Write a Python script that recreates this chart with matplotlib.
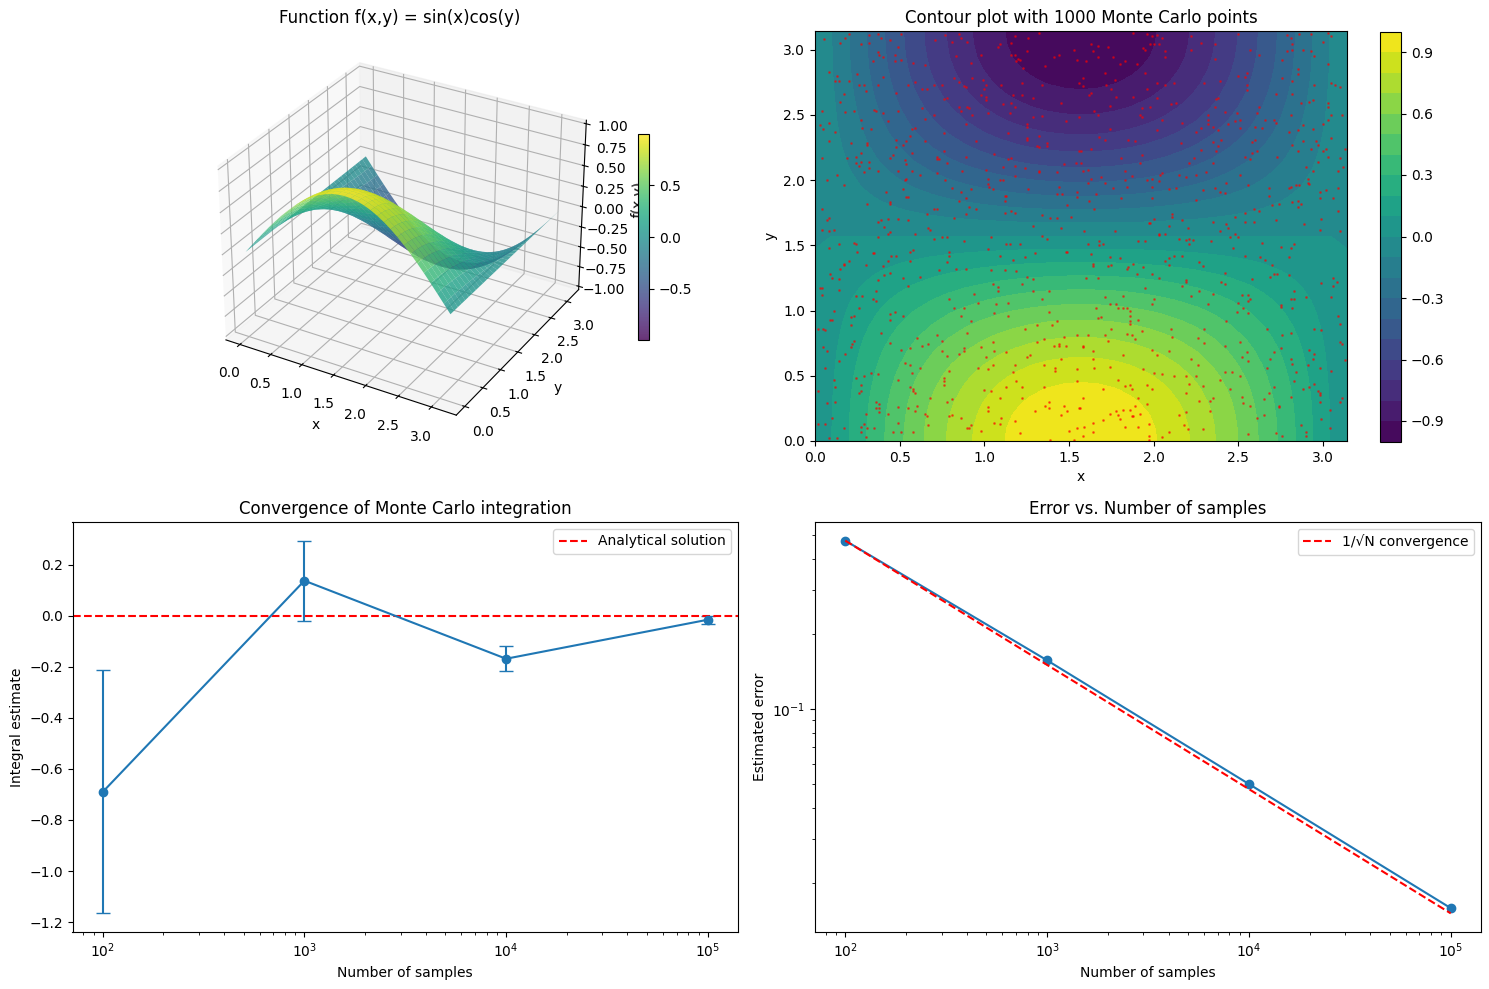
import matplotlib
matplotlib.use("Agg")
import numpy as np
import matplotlib.pyplot as plt

W, H = 1489, 989

# grid values
grid_x = [0, .098, .196, .295, .393, .491, .589, .687, .785, .884, .982, 1.080, 1.178, 1.276, 1.374, 1.473, 1.571,
          1.669, 1.767, 1.865, 1.963, 2.062, 2.160, 2.258, 2.356, 2.454, 2.553, 2.651, 2.749, 2.847, 2.945, 3.043, 3.142]
grid_y = grid_x
quarter_rows = [
    [0, .098, .195, .290, .383, .471, .556, .634, .707, .773, .831, .882, .924, .957, .981, .995, 1],
    [0, .098, .194, .289, .381, .469, .553, .631, .703, .769, .827, .878, .919, .952, .976, .990, .995],
    [0, .096, .191, .284, .376, .462, .545, .622, .694, .758, .815, .865, .906, .939, .962, .976, .981],
    [0, .094, .187, .278, .367, .451, .532, .607, .677, .740, .795, .844, .884, .916, .939, .952, .957],
    [0, .091, .180, .268, .354, .435, .514, .586, .653, .714, .768, .815, .854, .884, .906, .919, .924],
    [0, .086, .172, .256, .338, .415, .490, .559, .624, .682, .733, .778, .815, .844, .865, .878, .882],
    [0, .081, .162, .241, .318, .391, .462, .527, .588, .642, .691, .733, .768, .795, .815, .827, .831],
    [0, .076, .151, .224, .296, .364, .430, .490, .547, .598, .642, .682, .714, .740, .758, .769, .773],
    [0, .069, .138, .205, .271, .333, .393, .448, .500, .547, .588, .624, .653, .677, .694, .703, .707],
    [0, .062, .124, .184, .243, .299, .353, .402, .448, .490, .527, .559, .586, .607, .622, .631, .634],
    [0, .054, .108, .161, .213, .262, .309, .353, .393, .430, .462, .490, .514, .532, .545, .553, .556],
    [0, .046, .092, .137, .180, .222, .262, .299, .333, .364, .391, .415, .435, .451, .462, .469, .471],
    [0, .038, .075, .111, .147, .180, .213, .243, .271, .296, .318, .338, .354, .367, .376, .381, .383],
    [0, .028, .057, .084, .111, .137, .161, .184, .205, .224, .241, .256, .268, .278, .284, .289, .290],
    [0, .019, .038, .057, .075, .092, .108, .124, .138, .151, .162, .172, .180, .187, .191, .194, .195],
    [0, .010, .019, .028, .038, .046, .054, .062, .069, .076, .081, .086, .091, .094, .096, .098, .098],
    [0, 0, 0, 0, 0, 0, 0, 0, 0, 0, 0, 0, 0, 0, 0, 0, 0],
]

# red points, one list per quarter
points_top_left = [
    (.055,3.08),(.15,3.05),(.18,3.09),(.20,3.12),(.32,3.11),(.37,3.12),(.39,3.09),(.27,3.04),(.32,3.05),(.44,3.07),
    (.49,3.02),(.51,3.12),(.71,3.07),(.77,3.11),(.81,3.06),(.85,3.12),(.86,3.09),(.90,3.06),(1.08,3.02),(1.09,3.04),
    (1.16,3.05),(1.18,3.10),(1.26,3.09),(1.32,3.13),(1.25,2.99),(1.53,3.00),(1.44,2.96),(1.41,2.94),(1.55,2.92),(1.36,2.87),
    (1.23,2.86),(1.16,2.96),(1.18,2.96),(1.20,2.93),(1.21,2.92),(1.19,2.91),(.98,2.96),(.83,2.95),(.92,2.90),(.37,2.98),
    (.38,2.96),(.40,2.94),(.47,2.96),(.47,2.91),(.51,2.92),(.34,2.91),(.58,2.90),(.65,2.88),(.085,2.83),(.13,2.80),
    (.25,2.81),(.40,2.79),(.12,2.76),(.14,2.76),(.20,2.76),(.26,2.73),(.29,2.73),(.37,2.73),(.30,2.68),(.17,2.66),
    (.15,2.60),(.23,2.53),(.18,2.52),(.04,2.53),(.085,2.44),(.03,2.42),(.05,2.39),(.12,2.37),(.085,2.30),(.04,2.17),
    (.07,2.0),(.13,2.04),(.17,1.96),(.04,1.78),(.085,1.71),(.07,1.69),(.04,1.62),(.08,1.61),(.11,1.62),(.55,2.73),
    (.59,2.75),(.63,2.70),(.66,2.70),(.70,2.73),(.75,2.73),(.82,2.78),(.85,2.75),(.93,2.78),(.99,2.77),(1.01,2.73),
    (1.0,2.70),(.88,2.72),(.89,2.71),(1.10,2.73),(1.22,2.74),(1.34,2.73),(1.56,2.74),(.48,2.67),(.76,2.62),(.78,2.63),
    (.98,2.65),(1.01,2.64),(1.01,2.61),(1.17,2.65),(1.22,2.65),(1.29,2.63),(1.45,2.59),(1.11,2.58),(1.16,2.59),(1.18,2.56),
    (.63,2.55),(.85,2.56),(.86,2.53),(.90,2.56),(.91,2.55),(.35,2.54),(.36,2.53),(.40,2.51),(.49,2.53),(.70,2.50),
    (.93,2.50),(1.02,2.51),(1.15,2.51),(1.29,2.48),(1.34,2.49),(1.56,2.48),(.27,2.46),(.43,2.45),(.65,2.47),(.89,2.43),
    (1.48,2.45),(1.25,2.43),(1.25,2.41),(.28,2.40),(.33,2.39),(.57,2.39),(.59,2.40),(.56,2.34),(.76,2.36),(1.14,2.36),
    (1.32,2.34),(1.25,2.32),(1.25,2.31),(.48,2.31),(.54,2.30),(.65,2.30),(.95,2.30),(.21,2.28),(.31,2.27),(.31,2.28),
    (.52,2.27),(.48,2.25),(1.31,2.26),(1.32,2.25),(1.37,2.28),(1.37,2.26),(.27,2.21),(.57,2.21),(.76,2.22),(1.06,2.20),
    (1.56,2.22),(.19,2.17),(.24,2.18),(.44,2.17),(.46,2.19),(.72,2.18),(.72,2.16),(.73,2.16),(.89,2.18),(1.14,2.16),
    (1.16,2.17),(.27,2.14),(.32,2.14),(.53,2.15),(.78,2.13),(1.54,2.13),(1.47,2.12),(.24,2.13),(.26,2.11),(.54,2.12),
    (1.11,2.10),(1.18,2.11),(.32,2.09),(1.01,2.08),(1.24,2.09),(.29,2.06),(.37,2.07),(.49,2.07),(.57,2.07),(.87,2.07),
    (1.32,2.07),(1.32,2.06),(1.43,2.06),(.72,2.05),(.62,2.04),(1.18,2.03),(.77,2.0),(1.02,2.01),(.54,2.01),(.53,2.0),
    (1.09,2.0),(1.11,2.0),(1.02,1.97),(1.03,1.95),(1.05,1.93),(.81,1.94),(.92,1.93),(1.26,1.93),(1.44,1.95),(.42,1.91),
    (.52,1.93),(.86,1.91),(1.55,1.91),(1.43,1.89),(1.46,1.89),(1.55,1.87),(1.12,1.88),(1.13,1.88),(.54,1.87),(.55,1.87),
    (.85,1.84),(.89,1.86),(1.12,1.84),(.31,1.82),(.44,1.82),(.44,1.83),(1.49,1.81),(.70,1.78),(.72,1.78),(.91,1.79),
    (.95,1.78),(.66,1.74),(.89,1.74),(1.12,1.75),(1.16,1.76),(1.18,1.75),(1.34,1.73),(1.39,1.71),(1.43,1.71),(1.51,1.72),
    (.82,1.71),(.39,1.69),(.37,1.68),(.43,1.70),(.49,1.70),(.55,1.69),(.41,1.64),(.67,1.63),(.68,1.62),(1.29,1.65),
    (1.45,1.63),(.44,1.60),(.43,1.59),(.59,1.59),
]
points_top_right = [
    (1.88,3.13),(1.96,3.12),(1.99,3.10),(2.02,3.11),(2.05,3.09),(2.22,3.10),(2.28,3.05),(2.36,3.04),(2.50,3.12),(2.79,3.11),
    (2.81,3.09),(2.86,3.12),(2.93,3.12),(3.03,3.13),(3.05,3.10),(3.00,3.06),(2.82,3.04),(1.63,3.04),(1.67,3.03),(1.73,3.02),
    (1.94,3.01),(1.95,3.00),(1.98,3.04),(2.00,3.04),(2.03,3.04),(1.64,2.99),(2.07,2.99),(2.22,3.0),(2.57,3.0),(2.62,2.96),
    (2.79,2.99),(2.82,3.0),(2.88,3.0),(2.93,2.99),(2.95,2.95),(1.67,2.94),(1.76,2.94),(2.07,2.94),(2.36,2.93),(2.76,2.92),
    (1.60,2.91),(1.83,2.91),(1.80,2.89),(1.90,2.89),(3.03,2.89),(2.85,2.85),(1.71,2.82),(1.95,2.82),(2.85,2.81),(2.50,2.80),
    (2.55,2.82),(2.54,2.79),(2.76,2.78),(1.58,2.78),(1.77,2.77),(2.39,2.76),(2.82,2.76),(2.02,2.74),(2.07,2.73),(2.12,2.74),
    (2.30,2.74),(3.05,2.74),(3.07,2.73),(3.10,2.71),(2.95,2.73),(2.55,2.73),(2.55,2.69),(1.58,2.72),(1.72,2.73),(1.75,2.70),
    (1.96,2.70),(1.63,2.67),(2.72,2.66),(2.82,2.66),(1.62,2.65),(1.78,2.64),(1.88,2.64),(2.02,2.63),(2.38,2.63),(2.37,2.62),
    (2.92,2.60),(2.94,2.61),(2.87,2.59),(3.03,2.59),(3.03,2.56),(1.74,2.57),(1.98,2.56),(1.93,2.55),(2.10,2.58),(2.13,2.59),
    (2.36,2.56),(2.62,2.56),(1.65,2.53),(1.67,2.50),(1.92,2.50),(1.93,2.48),(2.32,2.50),(2.42,2.52),(2.49,2.51),(2.61,2.51),
    (2.81,2.50),(3.05,2.50),(3.11,2.50),(2.05,2.46),(2.32,2.46),(2.48,2.45),(2.51,2.46),(2.66,2.46),(2.71,2.46),(2.72,2.44),
    (3.03,2.46),(3.0,2.43),(2.17,2.44),(2.32,2.43),(2.44,2.43),(2.35,2.41),(2.51,2.40),(2.60,2.41),(2.64,2.40),(2.88,2.42),
    (2.28,2.40),(1.74,2.39),(2.02,2.38),(2.25,2.37),(2.38,2.38),(2.94,2.39),(2.85,2.38),(2.80,2.37),(1.68,2.33),(1.71,2.31),
    (1.85,2.31),(1.89,2.30),(2.40,2.31),(2.60,2.31),(3.05,2.32),(2.16,2.28),(2.35,2.29),(2.58,2.29),(2.82,2.27),(2.88,2.30),
    (2.96,2.30),(2.97,2.27),(2.38,2.26),(1.63,2.24),(2.28,2.23),(2.93,2.24),(3.02,2.24),(3.13,2.24),(1.57,2.22),(2.37,2.22),
    (2.58,2.21),(2.61,2.22),(2.85,2.22),(3.0,2.22),(1.93,2.19),(1.81,2.17),(2.24,2.17),(2.54,2.18),(2.73,2.18),(3.03,2.18),
    (3.10,2.17),(2.57,2.16),(1.92,2.13),(2.21,2.13),(2.35,2.13),(2.97,2.14),(1.57,2.13),(2.90,2.10),(3.12,2.10),(1.58,2.07),
    (1.61,2.08),(1.83,2.07),(2.31,2.06),(2.94,2.07),(3.09,2.07),(2.05,2.05),(2.04,2.04),(1.87,2.03),(2.15,2.04),(2.25,2.04),
    (2.51,2.04),(1.69,2.02),(1.63,2.01),(2.19,2.02),(1.96,2.0),(1.99,2.01),(2.91,2.01),(1.83,2.0),(2.03,1.99),(1.61,1.98),
    (1.71,1.98),(2.43,1.98),(2.91,1.98),(2.92,1.97),(2.56,1.96),(2.84,1.96),(2.86,1.96),(2.81,1.95),(2.80,1.94),(1.76,1.94),
    (1.84,1.95),(1.99,1.95),(2.09,1.93),(2.13,1.94),(2.36,1.94),(2.68,1.94),(3.09,1.94),(2.29,1.92),(2.39,1.91),(2.42,1.90),
    (3.02,1.92),(2.98,1.91),(1.66,1.89),(2.68,1.88),(1.81,1.86),(1.99,1.86),(2.25,1.85),(2.98,1.86),(3.06,1.86),(1.62,1.84),
    (2.85,1.84),(2.82,1.83),(2.87,1.82),(2.74,1.82),(2.70,1.81),(1.65,1.78),(2.59,1.78),(2.85,1.79),(2.54,1.75),(2.62,1.76),
    (3.09,1.76),(2.11,1.74),(2.11,1.72),(2.48,1.72),(2.0,1.70),(2.17,1.69),(2.72,1.69),(2.99,1.70),(2.35,1.68),(2.54,1.68),
    (2.59,1.68),(1.97,1.67),(1.98,1.67),(2.09,1.65),(2.43,1.66),(2.89,1.66),(2.20,1.63),(2.44,1.63),(2.39,1.61),(2.98,1.62),
    (3.10,1.61),(1.59,1.61),(1.77,1.61),(2.48,1.59),(2.03,1.59),(2.07,1.59),
]
points_bottom_left = [
    (.08,1.48),(.14,1.51),(.23,1.52),(.24,1.51),(.37,1.56),(.70,1.55),(.75,1.56),(.78,1.56),(.88,1.53),(1.04,1.56),
    (1.13,1.51),(1.15,1.51),(1.21,1.51),(1.34,1.57),(1.37,1.55),(.25,1.45),(.34,1.44),(.35,1.44),(.45,1.42),(.48,1.42),
    (.56,1.45),(.58,1.46),(.79,1.45),(.79,1.42),(1.02,1.47),(1.09,1.42),(1.17,1.39),(1.24,1.41),(1.30,1.44),(1.48,1.45),
    (1.49,1.45),(.20,1.38),(.43,1.38),(.56,1.38),(.78,1.37),(.17,1.35),(.17,1.36),(.30,1.35),(.15,1.32),(.40,1.34),
    (.73,1.31),(.83,1.32),(.89,1.32),(1.04,1.31),(1.12,1.31),(1.19,1.30),(.09,1.28),(.44,1.29),(.10,1.25),(.14,1.24),
    (.41,1.27),(.52,1.25),(.62,1.26),(1.25,1.26),(1.29,1.24),(.37,1.23),(1.05,1.20),(1.22,1.20),(.55,1.19),(.03,1.17),
    (.04,1.17),(.14,1.16),(.36,1.15),(1.08,1.18),(1.08,1.15),(1.29,1.15),(1.38,1.15),(.04,1.12),(.24,1.11),(.28,1.11),
    (.94,1.13),(.34,1.09),(.36,1.07),(.79,1.09),(1.34,1.09),(.96,1.06),(1.07,1.05),(1.14,1.06),(.26,1.02),(.82,1.02),
    (.88,1.02),(.11,1.0),(.44,.97),(.47,.99),(1.38,.99),(.52,.96),(1.06,.98),(.23,.96),(.21,.95),(.86,.96),
    (1.14,.96),(.09,.93),(.10,.93),(.44,.93),(.92,.92),(1.43,.92),(.21,.89),(1.31,.89),(1.40,.89),(.02,.86),
    (.05,.86),(.06,.85),(1.24,.86),(.39,.83),(.90,.83),(.72,.81),(1.47,.80),(1.55,.81),(.60,.79),(1.35,.78),
    (.75,.77),(.23,.77),(.22,.74),(.21,.72),(.44,.75),(.63,.73),(.67,.74),(1.05,.76),(1.31,.76),(1.41,.73),
    (1.44,.74),(1.44,.73),(1.48,.73),(.98,.72),(.05,.72),(.07,.69),(.51,.70),(.56,.71),(.75,.69),(.88,.71),
    (.88,.69),(.85,.67),(1.06,.69),(1.13,.68),(1.27,.66),(1.25,.64),(.18,.67),(.78,.65),(1.01,.64),(1.45,.63),
    (.14,.61),(.53,.60),(.56,.58),(.62,.56),(.06,.56),(.96,.56),(1.05,.58),(1.02,.55),(1.18,.58),(1.35,.58),
    (1.42,.56),(1.42,.54),(.79,.54),(1.17,.53),(1.55,.55),(.57,.52),(.33,.52),(.29,.50),(.37,.51),(.11,.47),
    (.24,.48),(.49,.47),(.76,.48),(.76,.46),(1.19,.46),(1.55,.46),(.27,.43),(.76,.43),(.12,.41),(.56,.41),
    (.58,.40),(.58,.38),(.59,.37),(1.13,.41),(1.22,.41),(1.35,.41),(.02,.38),(.26,.37),(.27,.38),(1.0,.39),
    (1.04,.38),(.68,.33),(.81,.32),(.78,.30),(1.09,.33),(1.22,.33),(.12,.30),(.36,.30),(.07,.29),(1.38,.30),
    (1.36,.27),(1.38,.25),(1.47,.27),(1.49,.23),(1.45,.20),(1.56,.25),(.38,.28),(.38,.25),(.36,.25),(.38,.22),
    (.49,.26),(.55,.25),(.60,.27),(.59,.23),(1.02,.26),(1.02,.23),(1.30,.23),(.30,.21),(.43,.21),(.65,.21),
    (.66,.19),(.81,.20),(.79,.19),(.86,.18),(.10,.18),(1.10,.18),(1.06,.14),(1.09,.13),(1.18,.15),(.02,.13),
    (.06,.13),(.49,.14),(.29,.13),(.27,.11),(.67,.12),(.17,.10),(.31,.10),(.35,.10),(.91,.10),(.92,.12),
    (.90,.10),(.98,.08),(.27,.07),(.46,.07),(.51,.07),(.58,.07),(1.21,.06),(1.50,.08),(1.55,.10),(.30,.03),
    (.08,.02),(.13,.02),(1.39,.01),(1.53,.01),
]
points_bottom_right = [
    (2.03,1.58),(2.45,1.56),(2.50,1.56),(2.15,1.55),(2.19,1.54),(2.21,1.55),(2.23,1.54),(1.91,1.53),(1.95,1.53),(2.34,1.53),
    (1.61,1.51),(1.68,1.53),(1.68,1.50),(1.70,1.51),(2.21,1.51),(2.64,1.52),(2.75,1.49),(2.81,1.48),(2.83,1.51),(2.47,1.48),
    (1.63,1.43),(2.54,1.42),(2.63,1.41),(2.66,1.39),(2.80,1.41),(1.74,1.41),(1.80,1.40),(2.09,1.40),(2.07,1.38),(2.09,1.35),
    (2.12,1.42),(2.17,1.42),(2.27,1.37),(1.64,1.36),(1.64,1.34),(1.73,1.34),(1.75,1.35),(1.88,1.36),(2.70,1.35),(1.84,1.32),
    (1.85,1.33),(1.94,1.33),(2.29,1.34),(1.90,1.28),(1.99,1.28),(2.42,1.29),(2.71,1.28),(2.73,1.28),(2.69,1.26),(2.80,1.27),
    (1.60,1.25),(1.67,1.25),(2.03,1.25),(2.58,1.24),(2.19,1.23),(2.19,1.22),(2.40,1.22),(2.42,1.20),(3.06,1.25),(3.08,1.22),
    (3.06,1.19),(2.99,1.21),(2.17,1.19),(1.95,1.17),(2.27,1.15),(2.83,1.15),(2.35,1.13),(2.52,1.12),(2.56,1.12),(1.71,1.10),
    (1.82,1.11),(2.22,1.11),(3.05,1.10),(2.90,1.10),(2.0,1.09),(2.57,1.09),(2.56,1.07),(2.50,1.06),(2.81,1.09),(2.83,1.09),
    (2.32,1.05),(1.74,1.05),(1.78,1.05),(1.99,1.05),(2.75,1.04),(2.75,1.03),(1.66,1.02),(1.79,1.02),(1.82,1.02),(1.84,1.02),
    (2.53,1.02),(2.82,1.02),(1.86,1.0),(2.49,.99),(2.56,.98),(1.86,.96),(3.09,.96),(1.67,.94),(1.69,.95),(1.86,.92),
    (1.91,.93),(1.86,.90),(2.43,.92),(3.10,.90),(1.75,.86),(2.10,.86),(2.30,.86),(2.67,.86),(2.95,.86),(2.99,.85),
    (1.93,.84),(2.81,.83),(1.61,.81),(1.71,.81),(1.84,.82),(1.87,.81),(2.11,.80),(2.26,.79),(2.76,.81),(1.73,.77),
    (1.89,.78),(2.51,.76),(2.30,.75),(3.10,.76),(3.11,.74),(1.58,.73),(1.58,.72),(2.42,.73),(1.99,.70),(2.75,.71),
    (2.92,.70),(1.64,.69),(2.09,.69),(2.55,.68),(2.71,.68),(2.95,.67),(1.82,.66),(2.02,.66),(2.52,.64),(2.22,.63),
    (2.69,.63),(2.81,.63),(2.94,.63),(1.64,.63),(2.56,.61),(3.13,.62),(2.82,.59),(2.91,.58),(2.26,.58),(1.74,.57),
    (1.65,.56),(2.67,.56),(2.98,.56),(1.94,.55),(3.05,.54),(2.84,.53),(2.0,.52),(2.05,.51),(2.42,.53),(2.46,.53),
    (2.12,.50),(2.19,.50),(2.25,.50),(2.51,.50),(1.79,.47),(2.39,.47),(2.83,.46),(1.83,.42),(1.86,.43),(1.96,.43),
    (2.21,.44),(2.95,.44),(2.29,.42),(2.71,.41),(2.92,.41),(2.88,.40),(1.70,.40),(1.87,.40),(1.99,.40),(2.45,.40),
    (2.19,.37),(2.68,.37),(2.97,.38),(2.98,.37),(2.98,.35),(2.52,.34),(2.81,.34),(1.91,.33),(2.35,.33),(1.58,.33),
    (2.27,.31),(2.33,.31),(2.65,.32),(3.11,.33),(2.53,.29),(2.98,.30),(3.10,.30),(1.96,.28),(1.89,.27),(2.57,.27),
    (2.74,.27),(2.74,.26),(1.82,.24),(1.86,.24),(1.78,.23),(3.04,.24),(2.33,.23),(1.74,.21),(1.92,.21),(2.19,.22),
    (2.15,.20),(1.79,.20),(1.87,.19),(1.88,.19),(1.80,.17),(2.65,.20),(2.61,.18),(2.99,.17),(1.70,.16),(1.64,.14),
    (1.97,.13),(2.87,.12),(2.18,.12),(1.59,.11),(1.83,.11),(1.91,.11),(2.20,.09),(2.29,.09),(3.04,.10),(1.64,.07),
    (2.09,.07),(2.90,.07),(2.72,.06),(2.56,.05),(1.58,.04),(1.97,.04),(1.97,.01),(2.05,.03),(2.76,.04),(2.90,.04),
    (1.565,.25),
]

samples = [100, 1000, 10000, 100000]
estimates = [-0.69, 0.138, -0.168, -0.015]
errors = [0.476, 0.157, 0.0499, 0.0158]
reference_line = [0.476, 0.1505, 0.0476, 0.01505]


def px_rect(left, top, right, bottom):
    return [left / W, 1 - bottom / H, (right - left) / W, (bottom - top) / H]


# full table from the quarter that was read, the panel is mirrored about the middle
quarter = np.array(quarter_rows)
top_half = np.hstack([quarter, quarter[:, -2::-1]])
Z = np.vstack([top_half, -top_half[-2::-1]])
X, Y = np.meshgrid(grid_x, grid_y)

fig = plt.figure(figsize=(W / 100, H / 100), dpi=100)

ax1 = fig.add_axes(px_rect(75, 31, 725, 441), projection='3d')
surf = ax1.plot_surface(X, Y, Z, cmap='viridis', alpha=0.8, rstride=1, cstride=1, linewidth=0)
ax1.set_xlabel('x')
ax1.set_ylabel('y')
ax1.set_zlabel('f(x,y)')
ax1.set_title('Function f(x,y) = sin(x)cos(y)')
cax1 = fig.add_axes(px_rect(638, 134, 649, 340))
cb1 = fig.colorbar(surf, cax=cax1)
cb1.set_ticks([-0.5, 0, 0.5])

ax2 = fig.add_axes(px_rect(815, 31, 1347, 441))
cont = ax2.contourf(X, Y, Z, levels=20, cmap='viridis')
pts = np.array(points_top_left + points_top_right + points_bottom_left + points_bottom_right)
ax2.scatter(pts[:, 0], pts[:, 1], c='red', s=1, alpha=0.5)
ax2.set_xlabel('x')
ax2.set_ylabel('y')
ax2.set_title('Contour plot with 1000 Monte Carlo points')
cax2 = fig.add_axes(px_rect(1380, 31.5, 1401, 441.5))
fig.colorbar(cont, cax=cax2)

ax3 = fig.add_axes(px_rect(72.5, 522, 738, 932))
ax3.errorbar(samples, estimates, yerr=errors, fmt='o-', capsize=5)
ax3.axhline(y=0, color='r', linestyle='--', label='Analytical solution')
ax3.set_xscale('log')
ax3.set_xlabel('Number of samples')
ax3.set_ylabel('Integral estimate')
ax3.set_title('Convergence of Monte Carlo integration')
ax3.legend()

ax4 = fig.add_axes(px_rect(815, 522, 1481, 932))
ax4.loglog(samples, errors, 'o-')
ax4.loglog(samples, reference_line, 'r--', label='1/√N convergence')
ax4.set_xlabel('Number of samples')
ax4.set_ylabel('Estimated error')
ax4.set_title('Error vs. Number of samples')
ax4.legend()

fig.savefig('out.png', dpi=100)
